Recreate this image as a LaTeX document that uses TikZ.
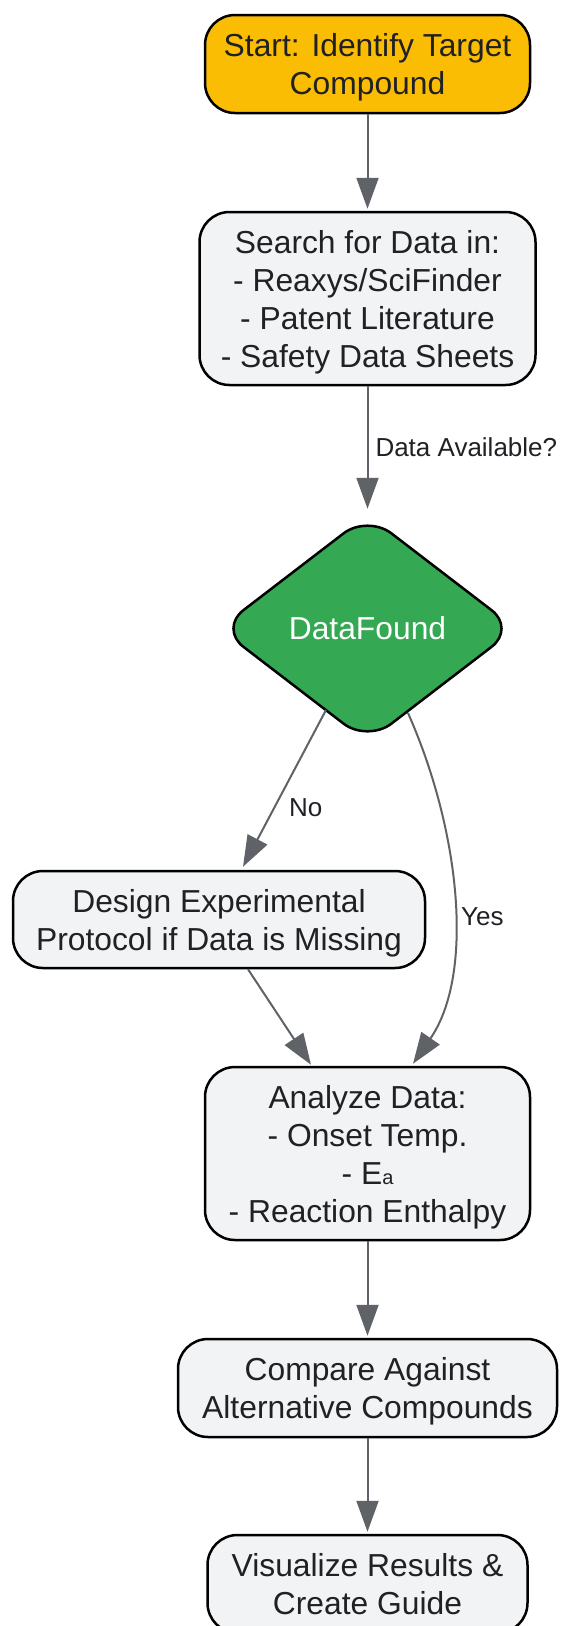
\documentclass[tikz,border=0pt]{standalone}
\usepackage{fontspec}
\setmainfont{Liberation Sans}
\usetikzlibrary{arrows.meta,shapes.geometric}

\definecolor{startfill}{HTML}{FBBC04}
\definecolor{boxfill}{HTML}{F1F3F4}
\definecolor{okgreen}{HTML}{34A853}
\definecolor{inkgray}{HTML}{202124}
\definecolor{linegray}{HTML}{5F6368}

\begin{document}
\begin{tikzpicture}[x=1pt,y=-1pt,
  procbox/.style={draw=black, fill=boxfill, line width=2.5pt, rounded corners=30pt,
    align=center, inner sep=0pt, text depth=0pt, text=inkgray,
    font=\fontsize{31.8}{38}\selectfont},
  startbox/.style={procbox, fill=startfill},
  decision/.style={diamond, draw=black, fill=okgreen, line width=2.5pt, rounded corners=30pt,
    inner sep=0pt, minimum width=297pt, minimum height=228pt, text=white,
    font=\fontsize{31.8}{38}\selectfont},
  arr/.style={draw=linegray, line width=2pt, -{Triangle[length=31pt,width=22pt]}},
  lbl/.style={inner sep=0pt, text=inkgray, font=\fontsize{26}{31}\selectfont}]

  \useasboundingbox (0,0) rectangle (561,1626);

  \node[startbox, minimum width=325pt, minimum height=98pt] (start) at (367.5,64)
    {Start: Identify Target\\Compound};
  \node[procbox, minimum width=336pt, minimum height=173pt] (search) at (367.5,298.5)
    {Search for Data in:\\- Reaxys/SciFinder\\- Patent Literature\\- Safety Data Sheets};
  \node[decision] (df) at (367.5,628.5) {DataFound};
  \node[procbox, minimum width=412pt, minimum height=97pt] (design) at (219,919.5)
    {Design Experimental\\Protocol if Data is Missing};
  \node[procbox, minimum width=325pt, minimum height=173pt] (analyze) at (367.5,1153.5)
    {Analyze Data:\\- Onset Temp.\\- E{\fontsize{20}{20}\selectfont a}\\- Reaction Enthalpy};
  \node[procbox, minimum width=379pt, minimum height=98pt] (compare) at (367.5,1388)
    {Compare Against\\Alternative Compounds};
  \node[procbox, minimum width=320pt, minimum height=98pt] (visual) at (367.5,1584)
    {Visualize Results \&\\Create Guide};

  \draw[arr, shorten >=2pt] (start) -- (search);
  \draw[arr, shorten >=4.5pt] (search) -- (df)
    node[lbl, pos=0.48, anchor=west, xshift=7pt] {Data Available?};
  \draw[arr] ([shift={(-41.5,81.5)}]df.center) -- ([shift={(24,-3)}]design.north)
    node[lbl, pos=0.62, anchor=west, xshift=13.5pt] {No};
  \draw[arr] ([shift={(40.5,84.5)}]df.center) .. controls +(52,117) and +(62,-90)
    .. ([shift={(45.5,-2)}]analyze.north)
    node[lbl, pos=0.55, anchor=west, xshift=6.5pt] {Yes};
  \draw[arr] ([shift={(29,0)}]design.south) -- ([shift={(-56.5,-1)}]analyze.north);
  \draw[arr, shorten >=2pt] (analyze) -- (compare);
  \draw[arr, shorten >=2pt] (compare) -- (visual);
\end{tikzpicture}
\end{document}
